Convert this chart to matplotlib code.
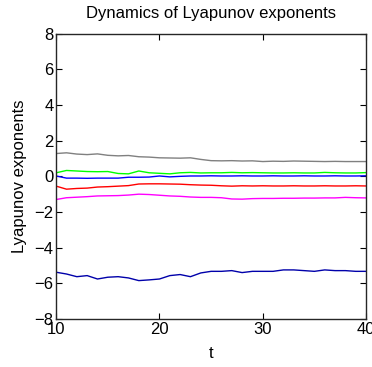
import numpy as np
import matplotlib
matplotlib.use('Agg')
from matplotlib import pyplot as plt

plt.rcParams['font.family'] = ['Liberation Sans', 'DejaVu Sans']

# time grid and the six exponents
t = np.arange(10, 41, 1)

le_gray = [1.28, 1.32, 1.25, 1.22, 1.26, 1.18, 1.15, 1.17, 1.10, 1.08, 1.04,
           1.03, 1.02, 1.04, 0.95, 0.88, 0.87, 0.88, 0.86, 0.87, 0.83,
           0.85, 0.84, 0.86, 0.85, 0.84, 0.83, 0.84, 0.83, 0.83, 0.83]
le_green = [0.20, 0.33, 0.30, 0.27, 0.26, 0.27, 0.16, 0.14, 0.30, 0.20, 0.17,
            0.14, 0.20, 0.22, 0.19, 0.20, 0.20, 0.22, 0.20, 0.21, 0.20,
            0.19, 0.19, 0.20, 0.19, 0.19, 0.22, 0.20, 0.19, 0.19, 0.21]
le_blue = [0.02, -0.10, -0.10, -0.11, -0.10, -0.10, -0.10, -0.05, -0.05, -0.04, 0.02,
           -0.03, 0.00, 0.02, 0.02, 0.03, 0.02, 0.02, 0.03, 0.02, 0.02,
           0.03, 0.02, 0.02, 0.03, 0.02, 0.02, 0.03, 0.02, 0.02, 0.03]
le_red = [-0.55, -0.72, -0.68, -0.66, -0.60, -0.58, -0.55, -0.52, -0.43, -0.42, -0.42,
          -0.43, -0.44, -0.47, -0.49, -0.50, -0.53, -0.55, -0.53, -0.54, -0.53,
          -0.54, -0.54, -0.53, -0.54, -0.54, -0.53, -0.54, -0.54, -0.53, -0.54]
le_magenta = [-1.30, -1.20, -1.17, -1.14, -1.10, -1.09, -1.08, -1.05, -1.00, -1.02, -1.06,
              -1.10, -1.12, -1.16, -1.18, -1.18, -1.20, -1.27, -1.28, -1.25, -1.24,
              -1.24, -1.23, -1.23, -1.22, -1.22, -1.21, -1.21, -1.18, -1.20, -1.21]
le_navy = [-5.38, -5.48, -5.63, -5.57, -5.76, -5.66, -5.63, -5.70, -5.85, -5.81, -5.76,
           -5.57, -5.51, -5.63, -5.42, -5.33, -5.33, -5.29, -5.40, -5.33, -5.33,
           -5.33, -5.25, -5.25, -5.29, -5.33, -5.25, -5.29, -5.29, -5.33, -5.33]

fig = plt.figure(figsize=(3.72, 3.67), dpi=100)
ax = fig.add_axes([0.151, 0.131, 0.833, 0.777])

ax.plot(t, le_gray, color='#808080', lw=1)
ax.plot(t, le_green, color='#00ff00', lw=1)
ax.plot(t, le_blue, color='#0000ff', lw=1)
ax.plot(t, le_red, color='#ff0000', lw=1)
ax.plot(t, le_magenta, color='#ff00ff', lw=1)
ax.plot(t, le_navy, color='#0000aa', lw=1)

ax.set_xlim(10, 40)
ax.set_ylim(-8, 8)
ax.set_xticks([10, 20, 30, 40])
ax.set_yticks(np.arange(-8, 9, 2))
ax.tick_params(direction='in', top=True, right=True, length=4, labelsize=12, pad=2)
for s in ax.spines.values():
    s.set_linewidth(1)
    s.set_color('#262626')

ax.set_title('Dynamics of Lyapunov exponents', fontsize=12, pad=11)
ax.set_xlabel('t', fontsize=12, labelpad=7)
ax.set_ylabel('Lyapunov exponents', fontsize=12, labelpad=5)

plt.savefig('out.png', dpi=100)
